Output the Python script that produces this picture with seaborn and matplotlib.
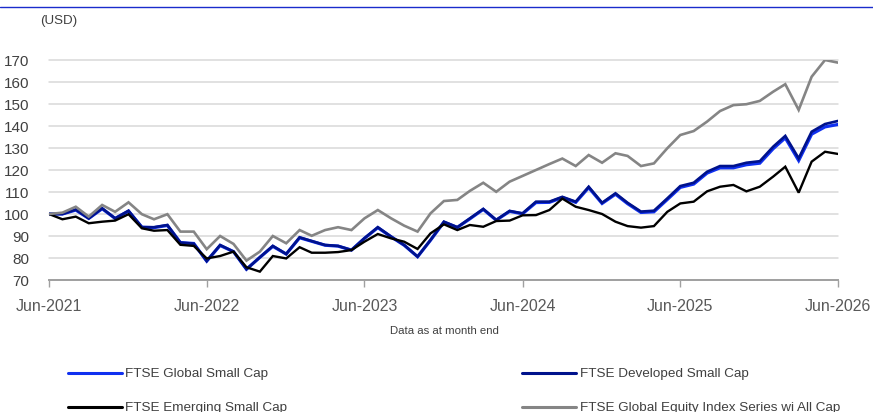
import matplotlib
matplotlib.use("Agg")
import matplotlib.pyplot as plt
import matplotlib.dates as mdates
from matplotlib.lines import Line2D
import numpy as np
import pandas as pd
import seaborn as sns

# Monthly index levels (USD), rebased to 100 at Jun-2021
dates = pd.date_range("2021-06-30", "2026-06-30", freq="ME")

global_small_cap = [
    100.0, 100.0, 101.8, 98.0, 102.4, 98.0, 101.3, 94.0, 93.8, 94.8,
    87.0, 86.6, 78.6, 85.7, 82.9, 74.9, 80.3, 85.3, 81.8, 89.2,
    87.6, 85.8, 85.4, 83.6, 88.9, 93.8, 89.6, 85.8, 80.6, 88.1,
    96.3, 93.9, 97.8, 102.1, 97.2, 101.2, 100.1, 105.2, 105.3, 107.5,
    105.3, 112.0, 104.8, 109.0, 104.7, 100.7, 101.0, 106.6, 112.1, 113.6,
    118.6, 121.0, 121.0, 122.4, 123.1, 129.7, 134.6, 124.3, 136.3, 139.6,
    140.7,
]
developed_small_cap = [
    100.0, 100.0, 102.0, 98.0, 102.6, 98.0, 101.5, 94.0, 94.0, 95.0,
    87.0, 86.5, 78.6, 85.9, 82.9, 74.9, 80.3, 85.5, 81.8, 89.4,
    87.7, 85.9, 85.5, 83.6, 89.0, 94.0, 89.7, 85.9, 80.6, 88.2,
    96.5, 94.0, 98.0, 102.3, 97.3, 101.4, 100.3, 105.6, 105.6, 107.8,
    105.6, 112.4, 105.1, 109.4, 105.1, 101.1, 101.5, 107.1, 112.7, 114.2,
    119.2, 121.8, 121.8, 123.3, 124.0, 130.6, 135.5, 125.3, 137.4, 140.9,
    142.3,
]
emerging_small_cap = [
    100.0, 97.6, 98.8, 95.8, 96.5, 97.0, 99.9, 93.5, 92.4, 92.7,
    86.0, 85.5, 79.8, 80.9, 82.9, 75.8, 73.8, 80.9, 79.8, 84.9,
    82.4, 82.4, 82.7, 83.6, 87.4, 90.9, 88.9, 87.4, 84.1, 91.2,
    95.3, 92.7, 95.0, 94.2, 96.8, 97.0, 99.4, 99.5, 101.8, 107.0,
    103.3, 101.8, 100.0, 96.5, 94.5, 93.8, 94.5, 101.0, 104.8, 105.6,
    110.3, 112.4, 113.2, 110.3, 112.4, 117.0, 121.5, 109.7, 123.8, 128.3,
    127.3,
]
global_all_cap = [
    100.0, 100.6, 103.3, 98.8, 104.1, 101.0, 105.3, 99.9, 97.6, 99.9,
    92.0, 92.0, 84.0, 90.0, 86.4, 78.8, 82.9, 90.0, 86.7, 92.7,
    90.1, 92.7, 94.0, 92.7, 98.0, 101.8, 98.0, 94.7, 92.0, 100.3,
    105.9, 106.4, 110.5, 114.2, 110.1, 114.7, 117.3, 120.0, 122.7, 125.2,
    121.8, 126.8, 123.3, 127.6, 126.4, 121.8, 123.0, 129.9, 135.9, 137.7,
    142.0, 146.8, 149.5, 149.9, 151.4, 155.6, 159.0, 147.3, 162.4, 170.0,
    168.8,
]

series_names = [
    "FTSE Global Small Cap",
    "FTSE Developed Small Cap",
    "FTSE Emerging Small Cap",
    "FTSE Global Equity Index Series wi All Cap",
]
series_values = [global_small_cap, developed_small_cap, emerging_small_cap, global_all_cap]
colors = ["#1030f0", "#00128c", "#000000", "#858585"]
widths = [2.3, 1.9, 1.7, 1.9]

y_ticks = [70, 80, 90, 100, 110, 120, 130, 140, 150, 160, 170]
x_tick_dates = pd.to_datetime(["2021-06-30", "2022-06-30", "2023-06-30",
                               "2024-06-30", "2025-06-30", "2026-06-30"])

df = pd.concat(
    [pd.DataFrame({"date": dates, "value": v, "series": n})
     for n, v in zip(series_names, series_values)],
    ignore_index=True,
)

sns.set_theme(style="white")
plt.rcParams["font.family"] = ["Liberation Sans", "DejaVu Sans"]

W, H = 873, 412
fig = plt.figure(figsize=(W / 100, H / 100), dpi=100)
ax = fig.add_axes([49 / W, 1 - 280 / H, (838 - 49) / W, 220 / H])

sns.lineplot(data=df, x="date", y="value", hue="series",
             palette=dict(zip(series_names, colors)), hue_order=series_names,
             legend=False, ax=ax, zorder=3)
for line, lw in zip(ax.get_lines(), widths):
    line.set_linewidth(lw)
    line.set_solid_joinstyle("miter")

ax.set_xlim(dates[0], dates[-1])
ax.set_ylim(70, 170)
ax.set_yticks(y_ticks)
ax.yaxis.grid(True, color="#d9d9d9", linewidth=1.1)
for gl in ax.get_ygridlines():
    gl.set_clip_on(False)
ax.xaxis.grid(False)

ax.set_xticks(x_tick_dates)
ax.xaxis.set_major_formatter(mdates.DateFormatter("%b-%Y"))
ax.tick_params(axis="x", which="major", direction="out", length=5, width=1,
               color="#a0a0a0", labelsize=11.5, labelcolor="#595959", pad=9,
               bottom=True)
ax.tick_params(axis="y", length=0, labelsize=11, labelcolor="#404040", pad=14)
ax.set_xlabel("")
ax.set_ylabel("")

for side in ["top", "right", "left"]:
    ax.spines[side].set_visible(False)
ax.spines["bottom"].set_color("#a0a0a0")
ax.spines["bottom"].set_linewidth(1.4)

fig.text(40 / W, 1 - 21 / H, "(USD)", fontsize=9.6, color="#404040",
         ha="left", va="center")
fig.text(444 / W, 1 - 331 / H, "Data as at month end", fontsize=8.2,
         color="#404040", ha="center", va="center")

# thin rule across the top of the figure
fig.add_artist(Line2D([0, 1], [1 - 7 / H, 1 - 7 / H], color="#1a2ccc",
                      linewidth=1.0, transform=fig.transFigure))

# legend reads row by row: Global | Developed, then Emerging | All Cap
order = [0, 2, 1, 3]
handles = [Line2D([], [], color=colors[i], linewidth=2.2) for i in order]
labels = [series_names[i] for i in order]
fig.legend(handles, labels, ncol=2, loc="upper left",
           bbox_to_anchor=(68 / W, 1 - 368 / H), frameon=False,
           fontsize=9.7, labelcolor="#404040", handlelength=4.0,
           handletextpad=0.25, columnspacing=17.45, labelspacing=1.6,
           borderpad=0, borderaxespad=0)

fig.savefig("out.png", dpi=100)
